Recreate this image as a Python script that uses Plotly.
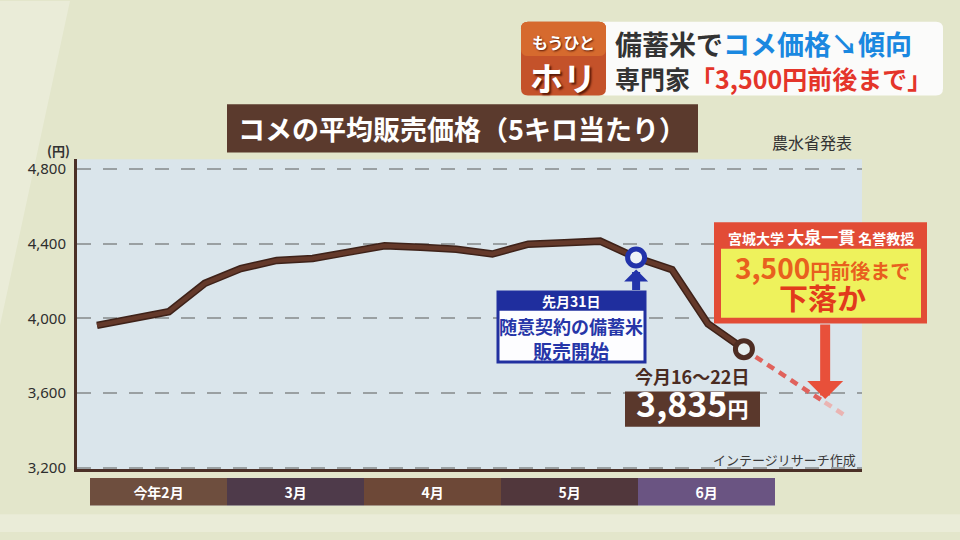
import plotly.graph_objects as go

W, H = 960, 540

# ---------------- data ----------------
week_index = list(range(19))
avg_price = [3962, 3998, 4035, 4187, 4266, 4310, 4320, 4354, 4388, 4380,
             4370, 4344, 4397, 4405, 4413, 4325, 4260, 3970, 3835]
callout_week = [15]
callout_price = [4325]
latest_week = [18]
latest_price = [3835]
forecast_week = [18, 20.25]
forecast_price = [3835, 3550]
forecast_faded_week = [20.25, 20.81]
forecast_faded_price = [3550, 3480]
arrow_target_week = 20.26
arrow_target_price = 3568
months = ["今年2月", "3月", "4月", "5月", "6月"]
month_colors = ["#6e4e3e", "#4e3a4a", "#6d4837", "#51373c", "#6a5482"]
y_ticks = [3200, 3600, 4000, 4400, 4800]
x_range = [-0.556, 21.285]
y_range = [3193, 4851]

FONT = "Noto Sans CJK JP"


def px(x):
    return x / W


def py(y):
    return 1 - y / H


def rrect(x0, y0, x1, y1, r):
    pts = [
        ("M", [(x0 + r, y0)]), ("L", [(x1 - r, y0)]), ("Q", [(x1, y0), (x1, y0 + r)]),
        ("L", [(x1, y1 - r)]), ("Q", [(x1, y1), (x1 - r, y1)]), ("L", [(x0 + r, y1)]),
        ("Q", [(x0, y1), (x0, y1 - r)]), ("L", [(x0, y0 + r)]), ("Q", [(x0, y0), (x0 + r, y0)]),
    ]
    s = ""
    for cmd, ps in pts:
        s += cmd + " " + " ".join(f"{px(a):.5f},{py(b):.5f}" for a, b in ps) + " "
    return s + "Z"


fig = go.Figure()

# main line (outline + core)
fig.add_trace(go.Scatter(x=week_index, y=avg_price, mode="lines",
                         line=dict(color="#3e2219", width=7.5), hoverinfo="skip", showlegend=False))
fig.add_trace(go.Scatter(x=week_index, y=avg_price, mode="lines",
                         line=dict(color="#64392a", width=4.5), hoverinfo="skip", showlegend=False))
# forecast dashed
fig.add_trace(go.Scatter(x=forecast_week, y=forecast_price, mode="lines",
                         line=dict(color="#e0625c", width=4.5, dash="8px,6px"),
                         hoverinfo="skip", showlegend=False))
fig.add_trace(go.Scatter(x=forecast_faded_week, y=forecast_faded_price, mode="lines",
                         line=dict(color="#eab4b2", width=4.5, dash="8px,6px"),
                         hoverinfo="skip", showlegend=False))
# markers
fig.add_trace(go.Scatter(x=callout_week, y=callout_price, mode="markers",
                         marker=dict(size=17, color="#eef3f6", line=dict(color="#2233aa", width=5)),
                         hoverinfo="skip", showlegend=False))
fig.add_trace(go.Scatter(x=latest_week, y=latest_price, mode="markers",
                         marker=dict(size=17, color="#e6eeee", line=dict(color="#4e2d22", width=5)),
                         hoverinfo="skip", showlegend=False))

# month bar
fig.add_trace(go.Bar(x=months, y=[1] * len(months), marker=dict(color=month_colors, line=dict(width=0)),
                     text=[f"<b>{m}</b>" for m in months], textposition="inside", insidetextanchor="middle",
                     textfont=dict(color="white", size=14, family=FONT),
                     xaxis="x2", yaxis="y2", hoverinfo="skip", showlegend=False))

shapes = []
# background decorations
shapes.append(dict(type="path", xref="paper", yref="paper", layer="below",
                   path=f"M 0,1 L {px(70)},1 L 0,{py(330)} Z",
                   fillcolor="rgba(255,255,255,0.25)", line=dict(width=0)))
shapes.append(dict(type="rect", xref="paper", yref="paper", layer="below",
                   x0=0, x1=1, y0=0, y1=py(522), fillcolor="rgba(255,255,255,0.25)", line=dict(width=0)))

# title box
shapes.append(dict(type="rect", xref="paper", yref="paper", x0=px(227), x1=px(698), y0=py(154), y1=py(105),
                   fillcolor="#5b3a2d", line=dict(width=0)))
# banner
shapes.append(dict(type="path", xref="paper", yref="paper", path=rrect(598, 21, 943, 96, 7),
                   fillcolor="#fbfbfa", line=dict(width=0)))
shapes.append(dict(type="path", xref="paper", yref="paper", path=rrect(521, 21, 606, 96, 7),
                   fillcolor="#c4522a", line=dict(width=0)))
shapes.append(dict(type="path", xref="paper", yref="paper", path=rrect(521, 21, 606, 56, 7),
                   fillcolor="#d66a2e", line=dict(width=0)))
# blue callout
shapes.append(dict(type="rect", xref="paper", yref="paper", x0=px(498), x1=px(645), y0=py(367), y1=py(296),
                   fillcolor="#fdfdff", line=dict(color="#2130a0", width=3)))
shapes.append(dict(type="rect", xref="paper", yref="paper", x0=px(498), x1=px(645), y0=py(315), y1=py(296),
                   fillcolor="#1f2e9e", line=dict(width=0)))
# latest value box
shapes.append(dict(type="rect", xref="paper", yref="paper", x0=px(625), x1=px(760), y0=py(433), y1=py(397),
                   fillcolor="#5a382c", line=dict(width=0)))
# expert box
shapes.append(dict(type="rect", xref="paper", yref="paper", x0=px(714), x1=px(927), y0=py(328), y1=py(225),
                   fillcolor="#e24c36", line=dict(width=0)))
shapes.append(dict(type="rect", xref="paper", yref="paper", x0=px(721), x1=px(921), y0=py(322), y1=py(252),
                   fillcolor="#eef25c", line=dict(width=0)))

ann = []


def text(x, y, t, size, color, xanchor="center", shadow=None):
    f = dict(family=FONT, size=size, color=color)
    if shadow:
        f["shadow"] = shadow
    ann.append(dict(xref="paper", yref="paper", x=px(x), y=py(y), text=t, showarrow=False,
                    xanchor=xanchor, yanchor="middle", font=f))


text(462, 130, "<b>コメの平均販売価格（5キロ当たり）</b>", 27, "white")
text(812, 143, "農水省発表", 16, "#333333")
text(58, 152, "<b>(円)</b>", 13, "#333333")
text(858, 466, "インテージリサーチ作成", 13, "#3a3a3a", xanchor="right")

# banner text
text(563, 42, "<b>もうひと</b>", 16, "white", shadow="1px 1px 2px #5a1a08")
text(563, 77, "<b>ホリ</b>", 33, "white", shadow="2px 2px 2px #5a1a08")
text(613, 43, "<b>備蓄米で<span style='color:#1a88e0'>コメ価格↘傾向</span></b>", 27, "#333333", xanchor="left")
text(613, 78, "<b>専門家<span style='color:#e4352a'>「3,500円前後まで」</span></b>", 25, "#333333", xanchor="left")

# blue callout text
text(571, 305, "<b>先月31日</b>", 14, "white")
text(571, 343, "<b><span style='font-size:18px'>随意契約の備蓄米</span><br>販売開始</b>", 19, "#2636a8")

# latest value
text(692, 401,
     "<b><span style='font-size:18px;color:#4a2c22'>今月16～22日</span><br>"
     f"<span style='font-size:34px'>{latest_price[0]:,}</span><span style='font-size:21px'>円</span></b>",
     25, "white")

# expert
text(821, 239, "<b><span style='font-size:14px'>宮城大学 </span>大泉一貫<span style='font-size:14px'> 名誉教授</span></b>",
     17, "white")
text(822, 286,
     "<b><span style='font-size:28px'>3,500</span><span style='font-size:20px'>円前後まで</span><br>"
     "<span style='font-size:29px;color:#e23a1c'>下落か</span></b>",
     24, "#e8601e")

# arrows
ann.append(dict(x=callout_week[0], y=callout_price[0], xref="x", yref="y", ax=0, ay=34,
                text="", showarrow=True, arrowhead=1, arrowsize=0.5, arrowwidth=8,
                arrowcolor="#2233aa", standoff=12))
ann.append(dict(x=arrow_target_week, y=arrow_target_price, xref="x", yref="y", ax=0, ay=-76,
                text="", showarrow=True, arrowhead=1, arrowsize=0.6, arrowwidth=10,
                arrowcolor="#e8503a", standoff=0))

fig.update_layout(
    width=W, height=H, margin=dict(l=0, r=0, t=0, b=0),
    paper_bgcolor="#e3e6cb", plot_bgcolor="#dae5eb",
    font=dict(family=FONT),
    bargap=0, showlegend=False,
    xaxis=dict(domain=[px(77), px(862)], range=x_range, showgrid=False, zeroline=False,
               showticklabels=False, showline=True, linecolor="#4b3027", linewidth=3, ticks=""),
    yaxis=dict(domain=[py(476), py(161)], range=y_range, tickvals=y_ticks, tickformat=",",
               showgrid=True, gridcolor="#9aa0a2", gridwidth=1.5, griddash="14px,12px",
               zeroline=False, showline=True, linecolor="#4b3027", linewidth=3,
               ticks="", ticklabelstandoff=5,
               tickfont=dict(family="Noto Sans", size=15, color="#2e2e2e")),
    xaxis2=dict(domain=[px(90), px(775)], anchor="y2", type="category", showgrid=False,
                showticklabels=False, zeroline=False, showline=False),
    yaxis2=dict(domain=[py(513), py(485)], anchor="x2", range=[0, 1], showgrid=False,
                showticklabels=False, zeroline=False, showline=False),
    shapes=shapes, annotations=ann,
)

fig.write_html("out.html", config={"displayModeBar": False},
               post_script="document.body.style.margin='0px';document.body.style.overflow='hidden';")
